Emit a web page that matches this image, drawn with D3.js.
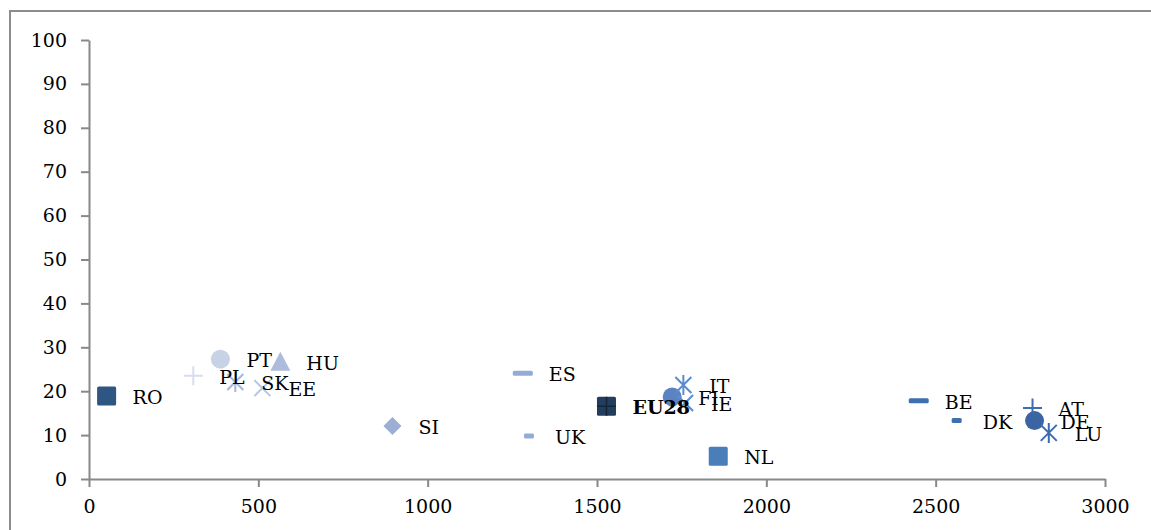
<!DOCTYPE html>
<html>
<head>
<meta charset="utf-8">
<script src="https://cdn.jsdelivr.net/npm/d3@7/dist/d3.min.js"></script>
<style>
  html, body { margin: 0; padding: 0; background: #fff; }
  svg { display: block; font-family: "DejaVu Serif", "Liberation Serif", serif; }
</style>
</head>
<body>
<svg id="chart" width="1151" height="530"></svg>
<script>
// Country codes, x values and y values of each point
const countries = ["RO", "PL", "PT", "SK", "EE", "HU", "SI", "ES", "UK", "EU28",
                   "FI", "IT", "IE", "NL", "BE", "DK", "AT", "DE", "LU"];
const xValues = [52, 308, 388, 432, 512, 565, 896, 1281, 1299, 1528,
                 1722, 1755, 1760, 1858, 2450, 2562, 2786, 2792, 2834];
const yValues = [18.9, 23.5, 27.3, 22.1, 20.7, 26.7, 12.1, 24.1, 9.8, 16.6,
                 18.7, 21.4, 17.3, 5.2, 17.8, 13.3, 16.2, 13.3, 10.5];
// Marker shape and colour per series
const shapes = ["square", "plus", "circle", "star", "cross", "triangle", "diamond", "dash", "shortdash", "plussquare",
                "circle", "star", "cross", "square", "dash", "shortdash", "plus", "circle", "star"];
const colors = ["#2f5582", "#d6dded", "#c8d2e6", "#a4b7dc", "#b6c5e3", "#aebcdb", "#9caed3", "#94abd6", "#94abd6", "#223d5e",
                "#5b83c2", "#5d8bd2", "#5d8bd2", "#4a7ebb", "#3e6fae", "#3e6fae", "#3f6db1", "#3b65a2", "#3a6bb2"];
const xTicks = [0, 500, 1000, 1500, 2000, 2500, 3000];
const yTicks = [0, 10, 20, 30, 40, 50, 60, 70, 80, 90, 100];

const svg = d3.select("#chart");
const axisColor = "#888888";

// Chart frame
svg.append("rect")
  .attr("x", 10).attr("y", 11)
  .attr("width", 1150).attr("height", 540)
  .attr("fill", "none").attr("stroke", "#8c8c8c").attr("stroke-width", 2);

const x = d3.scaleLinear().domain([0, 3000]).range([89, 1105]);
const y = d3.scaleLinear().domain([0, 100]).range([479, 40]);

// Y axis
const yAxis = svg.append("g")
  .attr("transform", `translate(${x(0)},0)`)
  .call(d3.axisLeft(y).tickValues(yTicks).tickFormat(d3.format("d"))
    .tickSize(8).tickPadding(14).tickSizeOuter(0));
// X axis
const xAxis = svg.append("g")
  .attr("transform", `translate(0,${y(0)})`)
  .call(d3.axisBottom(x).tickValues(xTicks).tickFormat(d3.format("d"))
    .tickSize(8).tickPadding(13).tickSizeOuter(0));

[xAxis, yAxis].forEach(g => {
  g.select(".domain").attr("stroke", axisColor).attr("stroke-width", 2);
  g.selectAll(".tick line").attr("stroke", axisColor).attr("stroke-width", 2);
  g.selectAll(".tick text")
    .attr("fill", "#000")
    .style("font-family", "'DejaVu Serif', serif")
    .style("font-size", "19px");
});

const points = countries.map((c, i) => ({
  name: c, x: xValues[i], y: yValues[i], shape: shapes[i], color: colors[i]
}));

// Marker drawing
function drawMarker(g, d) {
  const c = d.color;
  switch (d.shape) {
    case "square":
      g.append("rect").attr("x", -9.5).attr("y", -9.5).attr("width", 19).attr("height", 19)
        .attr("rx", 1.5).attr("fill", c);
      break;
    case "plussquare":
      g.append("rect").attr("x", -9.5).attr("y", -9.5).attr("width", 19).attr("height", 19)
        .attr("rx", 1.5).attr("fill", c);
      g.append("path").attr("d", "M0,-9.5V9.5M-9.5,0H9.5").attr("stroke", "#15253a").attr("stroke-width", 1.5);
      break;
    case "circle":
      g.append("circle").attr("r", 9.5).attr("fill", c);
      break;
    case "triangle":
      g.append("path").attr("d", "M0,-10L10,9H-10Z").attr("fill", c);
      break;
    case "diamond":
      g.append("path").attr("d", "M0,-9L9,0L0,9L-9,0Z").attr("fill", c);
      break;
    case "plus":
      g.append("path").attr("d", "M0,-9.5V9.5M-9.5,0H9.5").attr("stroke", c).attr("stroke-width", 2);
      break;
    case "cross":
      g.append("path").attr("d", "M-8,-8L8,8M-8,8L8,-8").attr("stroke", c).attr("stroke-width", 2);
      break;
    case "star":
      g.append("path").attr("d", "M-8,-8L8,8M-8,8L8,-8M0,-10V10").attr("stroke", c).attr("stroke-width", 2);
      break;
    case "dash":
      g.append("rect").attr("x", -10).attr("y", -2.5).attr("width", 20).attr("height", 5)
        .attr("rx", 1.5).attr("fill", c);
      break;
    case "shortdash":
      g.append("rect").attr("x", -5).attr("y", -2.5).attr("width", 10).attr("height", 5)
        .attr("rx", 1.5).attr("fill", c);
      break;
  }
}

svg.append("g").selectAll("g.pt")
  .data(points).enter().append("g")
  .attr("class", "pt")
  .attr("transform", d => `translate(${x(d.x)},${y(d.y)})`)
  .each(function(d) { drawMarker(d3.select(this), d); });

// Data labels to the right of each marker
svg.append("g").selectAll("text")
  .data(points).enter().append("text")
  .attr("x", d => x(d.x) + 26)
  .attr("y", d => y(d.y) + 8)
  .attr("fill", "#000")
  .style("font-size", "19px")
  .style("font-weight", d => d.name === "EU28" ? "bold" : "normal")
  .text(d => d.name);
</script>
</body>
</html>
